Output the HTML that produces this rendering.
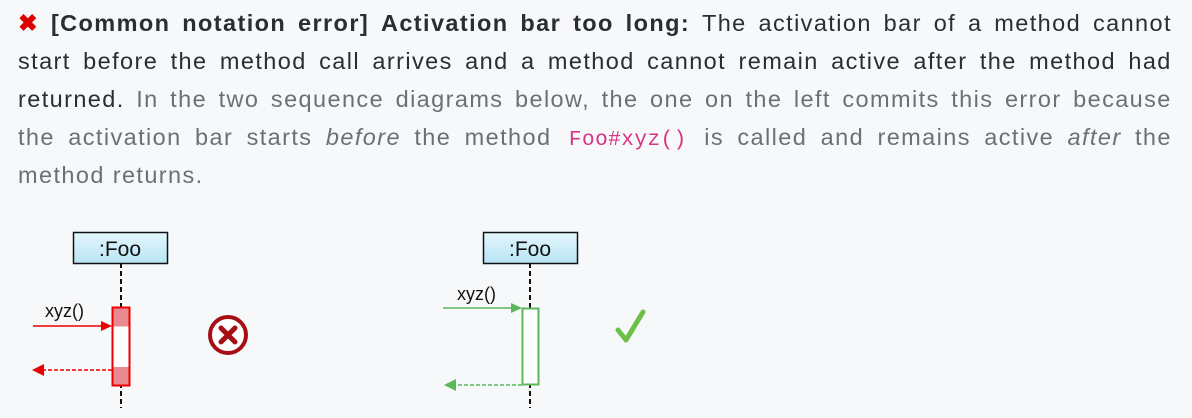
<!DOCTYPE html>
<html><head><meta charset="utf-8"><style>
html,body{margin:0;padding:0;background:#f7f8fa;width:1192px;height:418px;overflow:hidden}
.t{position:absolute;left:18px;width:1154px;font-family:"Liberation Sans",sans-serif;font-size:23.5px;letter-spacing:1.4px;line-height:38px;color:#2a2d31}
.l{display:flex;justify-content:space-between;align-items:baseline;white-space:nowrap;height:38px}
.g{color:#6c7075}
b{font-weight:bold}
code{font-family:"Liberation Mono",monospace;color:#d63384;font-size:21px;letter-spacing:0.5px;padding:0 4px}
</style></head><body>
<div class="t" style="top:4px">
<div class="l"><span style="color:#dd0000;font-weight:bold">✖</span><b>[Common</b><b>notation</b><b>error]</b><b>Activation</b><b>bar</b><b>too</b><b>long:</b><span>The</span><span>activation</span><span>bar</span><span>of</span><span>a</span><span>method</span><span>cannot</span></div>
<div class="l"><span>start</span><span>before</span><span>the</span><span>method</span><span>call</span><span>arrives</span><span>and</span><span>a</span><span>method</span><span>cannot</span><span>remain</span><span>active</span><span>after</span><span>the</span><span>method</span><span>had</span></div>
<div class="l g"><span style="color:#2a2d31">returned.</span><span>In</span><span>the</span><span>two</span><span>sequence</span><span>diagrams</span><span>below,</span><span>the</span><span>one</span><span>on</span><span>the</span><span>left</span><span>commits</span><span>this</span><span>error</span><span>because</span></div>
<div class="l g"><span>the</span><span>activation</span><span>bar</span><span>starts</span><i>before</i><span>the</span><span>method</span><code>Foo#xyz()</code><span>is</span><span>called</span><span>and</span><span>remains</span><span>active</span><i>after</i><span>the</span></div>
<div class="g" style="height:38px">method returns.</div>
</div>
<svg width="1192" height="418" style="position:absolute;left:0;top:0" font-family="Liberation Sans, sans-serif">
<defs><linearGradient id="bg" x1="0" y1="0" x2="0" y2="1"><stop offset="0" stop-color="#e4f6fc"/><stop offset="1" stop-color="#b8e4f6"/></linearGradient></defs>
<line x1="121" y1="263" x2="121" y2="408" stroke="#111" stroke-width="2" stroke-dasharray="5,3"/>
<rect x="73.5" y="232.5" width="94" height="31" fill="url(#bg)" stroke="#111" stroke-width="1.5"/>
<text x="120" y="256" font-size="21" text-anchor="middle" fill="#111">:Foo</text>
<rect x="112.5" y="307.5" width="17" height="78" fill="#fff" stroke="#e00" stroke-width="2"/>
<rect x="113.5" y="308.5" width="15" height="18" fill="#e88a90"/>
<rect x="113.5" y="367" width="15" height="17.5" fill="#e88a90"/>
<text x="45" y="317" font-size="18" fill="#111">xyz()</text>
<line x1="33" y1="326" x2="104" y2="326" stroke="#e00" stroke-width="1.5"/>
<polygon points="112,326 101,321 101,331" fill="#e00"/>
<line x1="112" y1="370" x2="42" y2="370" stroke="#e00" stroke-width="1.5" stroke-dasharray="4,2"/>
<polygon points="32,370 44,364 44,376" fill="#e00"/>
<circle cx="228" cy="335" r="18" fill="#fff" stroke="#a50f15" stroke-width="4"/>
<path d="M221 328 L235 342 M235 328 L221 342" stroke="#a50f15" stroke-width="5" stroke-linecap="round"/>
<line x1="530" y1="263" x2="530" y2="408" stroke="#111" stroke-width="2" stroke-dasharray="5,3"/>
<rect x="483.5" y="232.5" width="94" height="31" fill="url(#bg)" stroke="#111" stroke-width="1.5"/>
<text x="530" y="256" font-size="21" text-anchor="middle" fill="#111">:Foo</text>
<rect x="522.5" y="308.5" width="16" height="76" fill="#fff" stroke="#5cb85c" stroke-width="2"/>
<text x="457" y="300" font-size="18" fill="#111">xyz()</text>
<line x1="443" y1="308" x2="514" y2="308" stroke="#5cb85c" stroke-width="1.5"/>
<polygon points="522,308 511,303 511,313" fill="#5cb85c"/>
<line x1="522" y1="385" x2="454" y2="385" stroke="#5cb85c" stroke-width="1.5" stroke-dasharray="4,2"/>
<polygon points="444,385 456,379 456,391" fill="#5cb85c"/>
<path d="M618 330 L626 340 L643 312" fill="none" stroke="#6cc04a" stroke-width="5" stroke-linecap="round" stroke-linejoin="round"/>
</svg>
</body></html>
